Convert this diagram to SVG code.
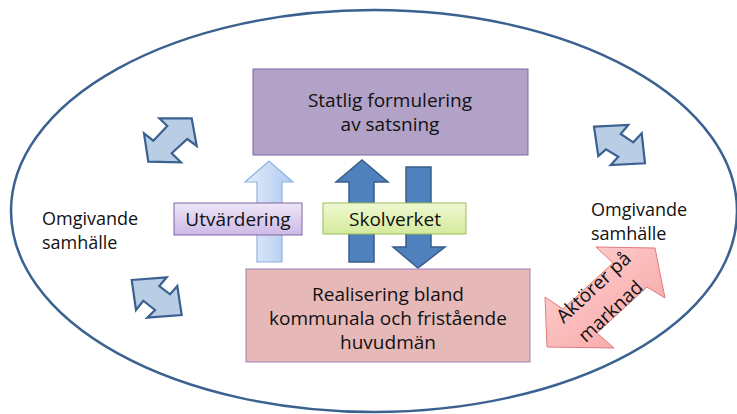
<svg xmlns="http://www.w3.org/2000/svg" width="737" height="414" viewBox="0 0 737 414">
<defs>
<style>
text{font-family:"Open Sans","Liberation Sans",sans-serif;fill:#111;}
.box{font-size:19px;text-anchor:middle;}
.side{font-size:18px;}
.small{fill:#B9CDE5;stroke:#3B6190;stroke-width:2.2;stroke-linejoin:miter;}
.dark{fill:#4F81BD;stroke:#385D8A;stroke-width:1.5;}
</style>
<linearGradient id="gLight" x1="0" y1="0" x2="1" y2="0">
<stop offset="0" stop-color="#E4EDFA"/><stop offset="1" stop-color="#AFC9F0"/>
</linearGradient>
<linearGradient id="gPurple" x1="0" y1="0" x2="0" y2="1">
<stop offset="0" stop-color="#EEE6F7"/><stop offset="1" stop-color="#CDB9E6"/>
</linearGradient>
<linearGradient id="gGreen" x1="0" y1="0" x2="0" y2="1">
<stop offset="0" stop-color="#EFF8D2"/><stop offset="1" stop-color="#D5EA9C"/>
</linearGradient>
<linearGradient id="gPink" x1="0" y1="0" x2="1" y2="1">
<stop offset="0" stop-color="#FFD3D3"/><stop offset="1" stop-color="#F6A3A3"/>
</linearGradient>
</defs>

<g id="boundary">
<ellipse cx="374" cy="211" rx="363" ry="201" fill="none" stroke="#3B6190" stroke-width="2.5"/>
</g>

<g id="connectors">
<polygon id="utv-arrow" points="257,262 257,182 245,182 269,161 293,182 282,182 282,262" fill="url(#gLight)" stroke="#8EB4E3" stroke-width="1.2"/>
<polygon id="up-arrow" class="dark" points="349,262 349,182 336,182 362,160 388,182 374,182 374,262"/>
<polygon id="down-arrow" class="dark" points="406,167 431,167 431,247 445,247 418,268 393,247 406,247"/>
</g>

<g id="statlig">
<rect x="253" y="69" width="275" height="86" fill="#B3A2C7" stroke="#8064A2" stroke-width="1"/>
<text class="box" x="390" y="107">Statlig formulering</text>
<text class="box" x="390" y="131">av satsning</text>
</g>

<g id="realisering">
<rect x="246" y="269" width="284" height="93" fill="#E6B9B8" stroke="#9A80B8" stroke-width="1"/>
<text class="box" x="388" y="301">Realisering bland</text>
<text class="box" x="388" y="325">kommunala och fristående</text>
<text class="box" x="388" y="349">huvudmän</text>
</g>

<g id="utvardering">
<rect x="174" y="203" width="128" height="32" fill="url(#gPurple)" stroke="#8064A2" stroke-width="1"/>
<text class="box" x="238" y="226">Utvärdering</text>
</g>

<g id="skolverket">
<rect x="323" y="203" width="143" height="31" fill="url(#gGreen)" stroke="#9BBB59" stroke-width="1"/>
<text class="box" x="395" y="226">Skolverket</text>
</g>

<g id="omgivande-left">
<text class="side" x="42" y="225">Omgivande</text>
<text class="side" x="42" y="249">samhälle</text>
</g>

<g id="omgivande-right">
<text class="side" x="591" y="216">Omgivande</text>
<text class="side" x="591" y="240">samhälle</text>
</g>

<g id="exchange-1">
<polygon class="small" points="159.3,118.3 167.3,126 153.3,140.7 144,133.3 148.3,161.7 181,162.3 171.7,153.3 187.3,139 196.7,146 191.7,118.3"/>
</g>
<g id="exchange-2">
<polygon class="small" points="594,126.7 628.3,125 620.7,134 633.3,142.3 641.7,133.3 645,163.3 610.7,165 618.3,156.7 606,149.3 598.3,156"/>
</g>
<g id="exchange-3">
<polygon class="small" points="131.7,280 166.7,277.3 159.3,286 170,294.3 177.3,286 181.7,315 147.3,317.7 155,310 143.3,300.7 136,310"/>
</g>

<g id="aktorer">
<polygon points="596,247 655,248 665,298 647,287 597,333 614,348 547,347 545,297 563,309 613,263" fill="url(#gPink)" stroke="#E07C7C" stroke-width="1"/>
<text class="box" transform="translate(598,292) rotate(-43)" font-size="18.5">Aktörer på</text>
<text class="box" transform="translate(615,316) rotate(-43)" font-size="18.5">marknad</text>
</g>
</svg>
